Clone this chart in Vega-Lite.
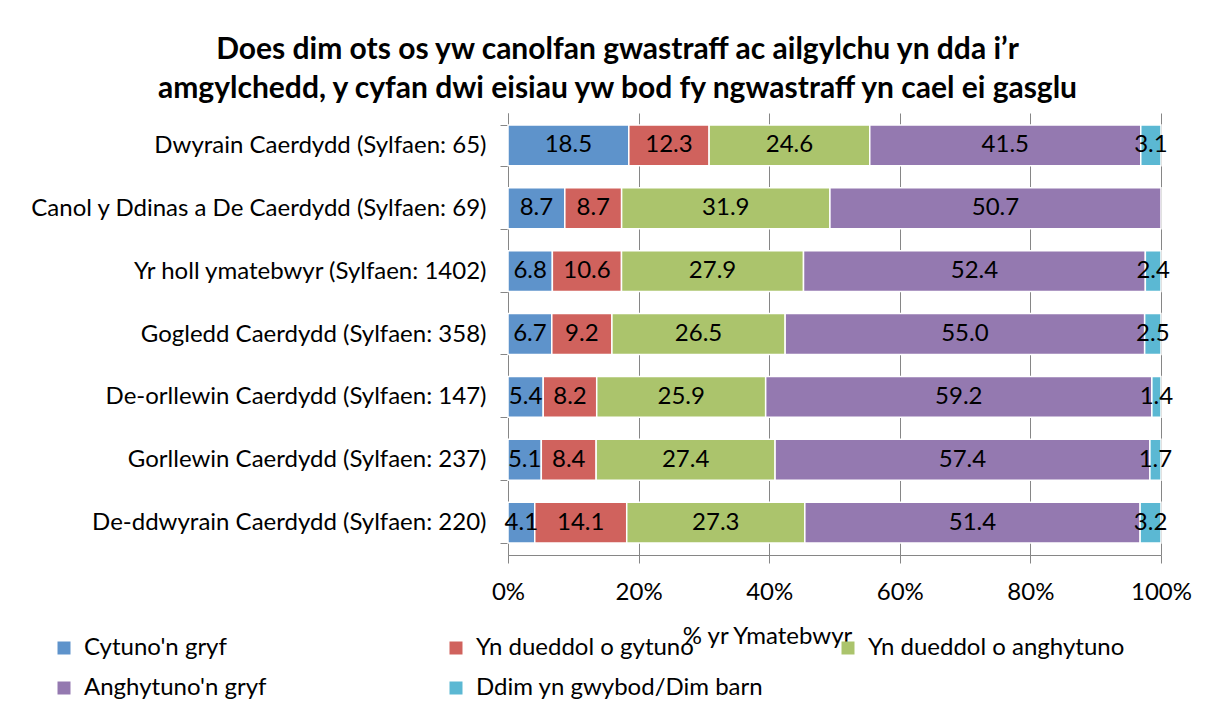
{
  "$schema": "https://vega.github.io/schema/vega-lite/v6.json",
  "width": 653,
  "height": 442,
  "autosize": "none",
  "padding": {"left": 508, "top": 113, "right": 48, "bottom": 162},
  "background": "white",
  "config": {"view": {"stroke": null}, "font": "Lato"},
  "title": {
    "text": ["Does dim ots os yw canolfan gwastraff ac ailgylchu yn dda i’r", "amgylchedd, y cyfan dwi eisiau yw bod fy ngwastraff yn cael ei gasglu"],
    "fontSize": 30, "font": "Lato", "fontWeight": "bold", "color": "black",
    "anchor": "middle", "dx": -217, "lineHeight": 39, "offset": -3
  },
  "data": {"values": [
    {"region": "Dwyrain Caerdydd (Sylfaen: 65)", "response": "Cytuno'n gryf", "code": 1, "value": 18.5},
    {"region": "Dwyrain Caerdydd (Sylfaen: 65)", "response": "Yn dueddol o gytuno", "code": 2, "value": 12.3},
    {"region": "Dwyrain Caerdydd (Sylfaen: 65)", "response": "Yn dueddol o anghytuno", "code": 3, "value": 24.6},
    {"region": "Dwyrain Caerdydd (Sylfaen: 65)", "response": "Anghytuno'n gryf", "code": 4, "value": 41.5},
    {"region": "Dwyrain Caerdydd (Sylfaen: 65)", "response": "Ddim yn gwybod/Dim barn", "code": 5, "value": 3.1},
    {"region": "Canol y Ddinas a De Caerdydd (Sylfaen: 69)", "response": "Cytuno'n gryf", "code": 1, "value": 8.7},
    {"region": "Canol y Ddinas a De Caerdydd (Sylfaen: 69)", "response": "Yn dueddol o gytuno", "code": 2, "value": 8.7},
    {"region": "Canol y Ddinas a De Caerdydd (Sylfaen: 69)", "response": "Yn dueddol o anghytuno", "code": 3, "value": 31.9},
    {"region": "Canol y Ddinas a De Caerdydd (Sylfaen: 69)", "response": "Anghytuno'n gryf", "code": 4, "value": 50.7},
    {"region": "Yr holl ymatebwyr (Sylfaen: 1402)", "response": "Cytuno'n gryf", "code": 1, "value": 6.8},
    {"region": "Yr holl ymatebwyr (Sylfaen: 1402)", "response": "Yn dueddol o gytuno", "code": 2, "value": 10.6},
    {"region": "Yr holl ymatebwyr (Sylfaen: 1402)", "response": "Yn dueddol o anghytuno", "code": 3, "value": 27.9},
    {"region": "Yr holl ymatebwyr (Sylfaen: 1402)", "response": "Anghytuno'n gryf", "code": 4, "value": 52.4},
    {"region": "Yr holl ymatebwyr (Sylfaen: 1402)", "response": "Ddim yn gwybod/Dim barn", "code": 5, "value": 2.4},
    {"region": "Gogledd Caerdydd (Sylfaen: 358)", "response": "Cytuno'n gryf", "code": 1, "value": 6.7},
    {"region": "Gogledd Caerdydd (Sylfaen: 358)", "response": "Yn dueddol o gytuno", "code": 2, "value": 9.2},
    {"region": "Gogledd Caerdydd (Sylfaen: 358)", "response": "Yn dueddol o anghytuno", "code": 3, "value": 26.5},
    {"region": "Gogledd Caerdydd (Sylfaen: 358)", "response": "Anghytuno'n gryf", "code": 4, "value": 55.0},
    {"region": "Gogledd Caerdydd (Sylfaen: 358)", "response": "Ddim yn gwybod/Dim barn", "code": 5, "value": 2.5},
    {"region": "De-orllewin Caerdydd (Sylfaen: 147)", "response": "Cytuno'n gryf", "code": 1, "value": 5.4},
    {"region": "De-orllewin Caerdydd (Sylfaen: 147)", "response": "Yn dueddol o gytuno", "code": 2, "value": 8.2},
    {"region": "De-orllewin Caerdydd (Sylfaen: 147)", "response": "Yn dueddol o anghytuno", "code": 3, "value": 25.9},
    {"region": "De-orllewin Caerdydd (Sylfaen: 147)", "response": "Anghytuno'n gryf", "code": 4, "value": 59.2},
    {"region": "De-orllewin Caerdydd (Sylfaen: 147)", "response": "Ddim yn gwybod/Dim barn", "code": 5, "value": 1.4},
    {"region": "Gorllewin Caerdydd (Sylfaen: 237)", "response": "Cytuno'n gryf", "code": 1, "value": 5.1},
    {"region": "Gorllewin Caerdydd (Sylfaen: 237)", "response": "Yn dueddol o gytuno", "code": 2, "value": 8.4},
    {"region": "Gorllewin Caerdydd (Sylfaen: 237)", "response": "Yn dueddol o anghytuno", "code": 3, "value": 27.4},
    {"region": "Gorllewin Caerdydd (Sylfaen: 237)", "response": "Anghytuno'n gryf", "code": 4, "value": 57.4},
    {"region": "Gorllewin Caerdydd (Sylfaen: 237)", "response": "Ddim yn gwybod/Dim barn", "code": 5, "value": 1.7},
    {"region": "De-ddwyrain Caerdydd (Sylfaen: 220)", "response": "Cytuno'n gryf", "code": 1, "value": 4.1},
    {"region": "De-ddwyrain Caerdydd (Sylfaen: 220)", "response": "Yn dueddol o gytuno", "code": 2, "value": 14.1},
    {"region": "De-ddwyrain Caerdydd (Sylfaen: 220)", "response": "Yn dueddol o anghytuno", "code": 3, "value": 27.3},
    {"region": "De-ddwyrain Caerdydd (Sylfaen: 220)", "response": "Anghytuno'n gryf", "code": 4, "value": 51.4},
    {"region": "De-ddwyrain Caerdydd (Sylfaen: 220)", "response": "Ddim yn gwybod/Dim barn", "code": 5, "value": 3.2}
  ]},
  "encoding": {
    "y": {
      "field": "region", "type": "nominal",
      "sort": ["Dwyrain Caerdydd (Sylfaen: 65)", "Canol y Ddinas a De Caerdydd (Sylfaen: 69)", "Yr holl ymatebwyr (Sylfaen: 1402)", "Gogledd Caerdydd (Sylfaen: 358)", "De-orllewin Caerdydd (Sylfaen: 147)", "Gorllewin Caerdydd (Sylfaen: 237)", "De-ddwyrain Caerdydd (Sylfaen: 220)"],
      "scale": {"paddingInner": 0.35, "paddingOuter": 0.19},
      "axis": {
        "title": null, "labelFontSize": 24, "labelColor": "black", "labelLimit": 500,
        "tickBand": "extent", "tickSize": 8, "tickColor": "#868686", "domainColor": "#868686",
        "labelPadding": 14, "grid": false
      }
    },
    "order": {"field": "code", "type": "quantitative"}
  },
  "layer": [
    {
      "mark": {"type": "bar", "stroke": "white", "strokeWidth": 1.5},
      "encoding": {
        "x": {
          "field": "value", "type": "quantitative", "stack": "normalize",
          "axis": {
            "title": "% yr Ymatebwyr", "format": ".0%", "values": [0, 0.2, 0.4, 0.6, 0.8, 1],
            "grid": true, "gridColor": "#868686", "tickSize": 8, "tickColor": "#868686",
            "domainColor": "#868686", "labelFontSize": 24, "labelColor": "black",
            "labelPadding": 17, "labelFlush": false,
            "titleFontSize": 24, "titleFontWeight": "normal", "titleColor": "black",
            "titleX": 259, "titleY": 81, "titleBaseline": "middle"
          }
        },
        "color": {
          "field": "response", "type": "nominal",
          "scale": {
            "domain": ["Cytuno'n gryf", "Yn dueddol o gytuno", "Yn dueddol o anghytuno", "Anghytuno'n gryf", "Ddim yn gwybod/Dim barn"],
            "range": ["#5E93CB", "#D0625D", "#ABC46C", "#9479B0", "#5BB8D3"]
          },
          "legend": {
            "orient": "none", "legendX": -456, "legendY": 523, "direction": "horizontal", "padding": 0,
            "columns": 3, "title": null, "labelFontSize": 24, "labelColor": "black", "labelLimit": 400,
            "symbolType": "square", "symbolSize": 169, "symbolStrokeWidth": 0,
            "rowPadding": 16, "columnPadding": 72, "gridAlign": "all", "labelOffset": 8
          }
        }
      }
    },
    {
      "mark": {"type": "text", "fontSize": 24, "color": "black"},
      "encoding": {
        "x": {"field": "value", "type": "quantitative", "stack": "normalize", "bandPosition": 0.5},
        "detail": {"field": "response", "type": "nominal"},
        "text": {"field": "value", "type": "quantitative", "format": ".1f"}
      }
    }
  ]
}
